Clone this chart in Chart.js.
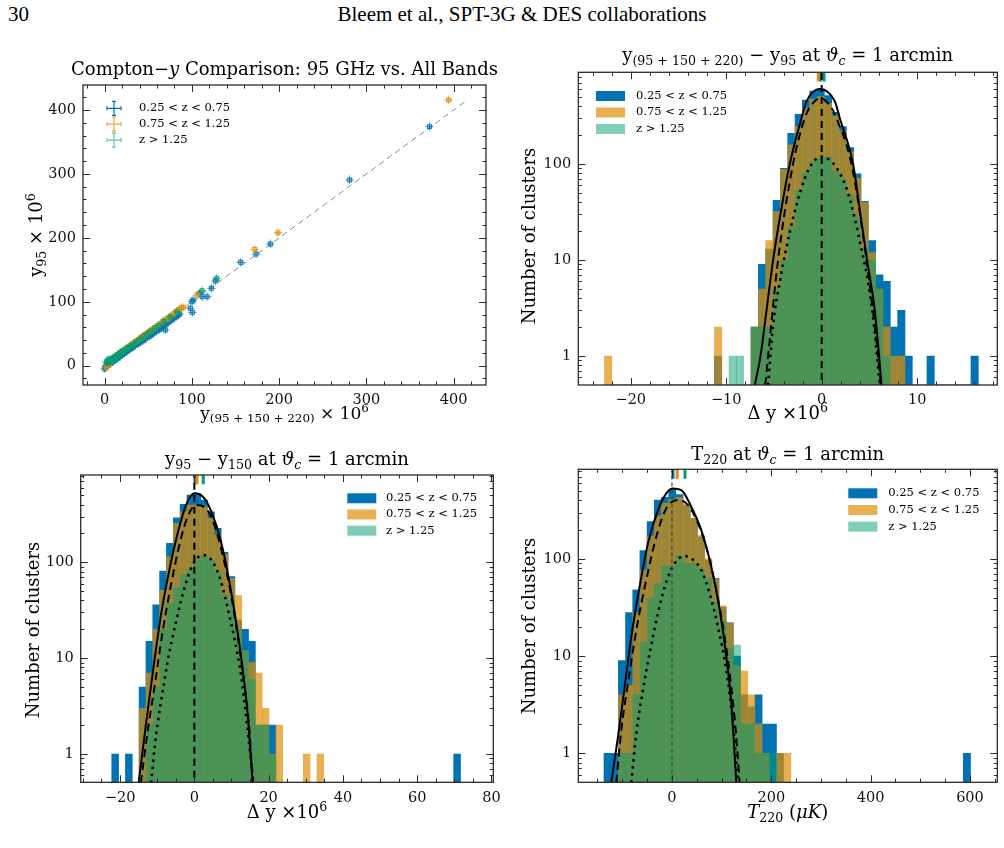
<!DOCTYPE html>
<html>
<head>
<meta charset="utf-8">
<title>Compton-y comparison</title>
<script src="https://cdn.jsdelivr.net/npm/chart.js@4.4.1/dist/chart.umd.min.js"></script>
<style>
  html, body { margin: 0; padding: 0; background: #fff; }
  body { position: relative; width: 1004px; height: 848px; overflow: hidden; font-family: "DejaVu Serif", serif; color: #000; }
  canvas { position: absolute; }
  .t { position: absolute; white-space: nowrap; transform: translate(-50%, -50%); line-height: 1; }
  .rot { transform: translate(-50%, -50%) rotate(-90deg); }
  .title { font-size: 18px; }
  .ax { font-size: 18px; }
  sub { font-size: 0.7em; vertical-align: -0.3em; line-height: 0; }
  sup { font-size: 0.7em; vertical-align: 0.55em; line-height: 0; }
  .hdr { position: absolute; font-family: "Liberation Serif", serif; font-size: 21px; white-space: nowrap; line-height: 1; }
</style>
</head>
<body>
<div class="hdr" style="left:8px; top:4px;">30</div>
<div class="hdr" style="left:522px; top:4px; transform: translateX(-50%);">Bleem et al., SPT-3G &amp; DES collaborations</div>

<canvas id="c1"></canvas>
<canvas id="c2"></canvas>
<canvas id="c3"></canvas>
<canvas id="c4"></canvas>

<div class="t title" style="left:284.5px; top:69px;">Compton−<i>y</i> Comparison: 95 GHz vs. All Bands</div>
<div class="t ax" style="left:284.5px; top:413px; font-size:17px;">y<sub>(95 + 150 + 220)</sub> × 10<sup>6</sup></div>
<div class="t ax rot" style="left:36px; top:235px;">y<sub>95</sub> × 10<sup>6</sup></div>

<div class="t title" style="left:787.7px; top:55px;">y<sub>(95 + 150 + 220)</sub> − y<sub>95</sub> at <i>ϑ<sub>c</sub></i> = 1 arcmin</div>
<div class="t ax" style="left:787.7px; top:413px;">Δ y ×10<sup>6</sup></div>
<div class="t ax rot" style="left:529px; top:236px;">Number of clusters</div>

<div class="t title" style="left:287px; top:459px;">y<sub>95</sub> − y<sub>150</sub> at <i>ϑ<sub>c</sub></i> = 1 arcmin</div>
<div class="t ax" style="left:287px; top:812px;">Δ y ×10<sup>6</sup></div>
<div class="t ax rot" style="left:33px; top:630px;">Number of clusters</div>

<div class="t title" style="left:787.7px; top:454px;">T<sub>220</sub> at <i>ϑ<sub>c</sub></i> = 1 arcmin</div>
<div class="t ax" style="left:787.7px; top:812px;"><i>T</i><sub>220</sub> (<i>μK</i>)</div>
<div class="t ax rot" style="left:529px; top:626px;">Number of clusters</div>

<script>
const BLUE = '#0173b2', ORANGE = '#de8f05', GREEN = '#029e73';
const HIST_FILLS = ['rgba(1,115,178,1)', 'rgba(222,143,5,0.7)', 'rgba(2,158,115,0.5)'];
const LINE_COLORS = [BLUE, ORANGE, GREEN];
const zLabels = ['0.25 < z < 0.75', '0.75 < z < 1.25', 'z > 1.25'];

// ---- panel 1: y95 vs y(95+150+220), both x 10^6
const p1BlueX = [0, 1, 2, 4, 5, 7, 9, 10, 12, 13, 15, 16, 18, 20, 21, 23, 25, 26, 28, 30, 32, 33, 35, 37, 39, 41, 43, 45, 47, 49, 51, 53, 55, 57, 59, 61, 63, 65, 67, 69, 71, 73, 76, 78, 80, 82, 84, 86,
  69.6, 98.2, 100.5, 100.2, 101.3, 108.5, 111.6, 117.4, 122.3, 126.9, 155.9, 173.5, 189.9, 280.8, 372.2];
const p1BlueY = [-5, -2, 0, 1, 3, 4, 6, 8, 9, 11, 12, 14, 15, 17, 19, 20, 22, 24, 25, 27, 29, 30, 32, 34, 35, 37, 39, 40, 43, 45, 46, 48, 50, 52, 54, 56, 57, 59, 62, 64, 66, 68, 71, 73, 75, 77, 79, 81,
  55.9, 89.8, 83.5, 100.2, 102.8, 113.3, 108, 108, 121.1, 132.5, 161.8, 174.8, 190.4, 290.6, 374];
const p1OrangeX = [2, 3, 5, 6, 8, 10, 11, 13, 15, 17, 19, 21, 23, 25, 27, 29, 31, 33, 35, 37, 39, 41, 43, 45, 47, 49, 51, 53, 55, 58, 61, 64, 67, 70, 73, 76, 79, 82, 85, 88, 90,
  105.9, 172, 198.7, 394.3];
const p1OrangeY = [-3, 1, 4, 7, 9, 11, 13, 15, 17, 19, 21, 23, 25, 27, 29, 31, 33, 35, 37, 39, 41, 43, 45, 47, 49, 51, 53, 55, 57, 60, 63, 66, 70, 72, 75, 78, 81, 85, 88, 91, 91,
  110.6, 182, 208.1, 415.8];
const p1GreenX = [2, 3, 4, 5, 6, 7, 8, 9, 10, 11, 12, 13, 14, 15, 16, 17, 18, 19, 20, 22, 24, 26, 28, 30, 33, 36, 40, 44, 48, 52, 57, 62, 68, 75, 83, 111.6, 128.4];
const p1GreenY = [6, 4, 10, 7, 9, 8, 10, 11, 12, 12, 14, 14, 15, 17, 17, 18, 20, 20, 22, 23, 25, 27, 29, 31, 33, 37, 41, 45, 49, 53, 58, 63, 69, 76, 84, 117.4, 136.7];
const p1Diag = [0, 416];

// ---- panel 2: y(95+150+220) - y95, histogram bins
const p2Edge0 = -22.76, p2Width = 0.768;
const p2Blue = [0, 0, 0, 0, 0, 0, 0, 0, 0, 0, 0, 0, 0, 0, 0, 1, 0, 0, 0, 0,
  2, 9, 13, 42, 90, 209, 329, 464, 576, 603, 515, 345, 245, 148, 79, 41, 16, 7, 6, 2, 3, 1, 0, 0, 1, 0, 0, 0, 0, 0, 1];
const p2Orange = [1, 0, 0, 0, 0, 0, 0, 0, 0, 0, 0, 0, 0, 0, 0, 2, 0, 0, 0, 0,
  2, 5, 16, 32, 88, 158, 245, 380, 475, 503, 429, 318, 221, 134, 71, 40, 12, 5, 2, 1, 1, 0, 0, 0, 0, 0, 0, 0, 0, 0, 0];
const p2Green = [0, 0, 0, 0, 0, 0, 0, 0, 0, 0, 0, 0, 0, 0, 0, 0, 0, 1, 1, 0,
  2, 2, 2, 5, 10, 22, 53, 81, 106, 115, 119, 85, 70, 47, 28, 13, 10, 5, 1, 0, 0, 0, 0, 0, 0, 0, 0, 0, 0, 0, 0];
const p2Means = [-0.15, -0.35, 0.25];
const p2SolidX = [-7.0, -6.41, -5.78, -5.09, -4.32, -3.34, -2.12, -1.59, -0.2, 1.37, 1.9, 3.29, 4.06, 4.76, 5.56, 6.02, 6.26];
const p2SolidY = [0.5, 1, 3, 10, 30, 100, 300, 450, 605, 450, 300, 100, 30, 10, 3, 1, 0.5];
const p2DashX = [-5.9, -5.61, -4.57, -3.0, -1.77, -1.17, -0.13, 0.92, 1.55, 3.12, 4.69, 5.91, 6.2];
const p2DashY = [0.5, 1, 10, 100, 300, 400, 483, 400, 300, 100, 10, 1, 0.5];
const p2DotX = [-5.61, -5.09, -4.39, -3.34, -2.64, -1.77, -1.07, -0.02, 1.19, 1.9, 2.6, 3.47, 4.17, 4.86, 5.39, 6.09];
const p2DotY = [0.5, 2.1, 5.9, 19.7, 37.4, 71, 99, 119, 102, 80, 56, 27, 13, 5.9, 2.5, 0.5];

// ---- panel 3: y95 - y150
const p3Edge0 = -22.24, p3Width = 1.8415;
const p3Blue = [1, 0, 1, 0, 5, 15, 36, 81, 158, 292, 402, 503, 524, 446, 337, 226, 127, 71, 25, 20, 15, 2, 2, 2, 0,
  0, 0, 0, 0, 0, 0, 0, 0, 0, 0, 0, 0, 0, 0, 0, 0, 0, 0, 0, 0, 0, 0, 0, 0, 0, 1];
const p3Orange = [0, 0, 0, 0, 3, 7, 20, 51, 114, 255, 337, 396, 396, 380, 287, 193, 121, 68, 45, 12, 9, 7, 3, 1, 2,
  0, 0, 0, 1, 0, 1, 0, 0, 0, 0, 0, 0, 0, 0, 0, 0, 0, 0, 0, 0, 0, 0, 0, 0, 0, 0];
const p3Green = [0, 0, 0, 0, 0, 2, 5, 20, 37, 55, 75, 85, 106, 119, 106, 80, 46, 40, 20, 12, 6, 2, 2, 1, 0,
  0, 0, 0, 0, 0, 0, 0, 0, 0, 0, 0, 0, 0, 0, 0, 0, 0, 0, 0, 0, 0, 0, 0, 0, 0, 0];
const p3Means = [0.2, 0.7, 2.4];
const p3SolidX = [-15.0, -13.0, -11.05, -9.0, -6.74, -4.49, -2.25, 0, 2.7, 4.94, 7.19, 9.43, 11.23, 13.0, 14.38, 15.7];
const p3SolidY = [0.5, 2.09, 7.8, 28, 83, 201, 396, 525, 465, 312, 164, 63, 24, 7.8, 2.55, 0.5];
const p3DashX = [-14.4, -12.6, -10.8, -8.54, -6.29, -4.04, -1.8, 0.45, 3.14, 5.39, 7.63, 9.88, 11.68, 13.5, 14.8, 15.7];
const p3DashY = [0.5, 1.7, 4.8, 18.9, 58, 151, 299, 396, 366, 245, 119, 46, 17, 5.2, 1.85, 0.5];
const p3DotX = [-11.67, -10.3, -8.98, -7.19, -4.94, -2.43, 0, 2.43, 4.94, 7.19, 8.98, 10.78, 12.57, 13.9, 15.3, 15.9];
const p3DotY = [0.5, 1.58, 3.5, 9.2, 24, 58, 101, 119, 101, 63, 33, 16, 6.7, 2.55, 0.83, 0.5];

// ---- panel 4: T220 (uK)
const p4Edge0 = -136.9, p4Width = 14.47;
const p4Blue = [1, 1, 9, 28, 48, 122, 242, 404, 430, 520, 460, 359, 262, 169, 97, 63, 32, 22, 10, 4, 3, 4, 2, 2, 1,
  0, 0, 0, 0, 0, 0, 0, 0, 0, 0, 0, 0, 0, 0, 0, 0, 0, 0, 0, 0, 0, 0, 0, 0, 0, 1];
const p4Orange = [0, 0, 4, 5, 28, 77, 172, 276, 373, 410, 430, 360, 262, 175, 101, 62, 33, 22, 8, 7, 4, 2, 1, 0, 1,
  1, 0, 0, 0, 0, 0, 0, 0, 0, 0, 0, 0, 0, 0, 0, 0, 0, 0, 0, 0, 0, 0, 0, 0, 0, 0];
const p4Green = [0, 0, 1, 1, 4, 14, 40, 56, 85, 86, 107, 90, 90, 78, 63, 36, 23, 12, 13, 2, 2, 1, 1, 1, 0,
  0, 0, 0, 0, 0, 0, 0, 0, 0, 0, 0, 0, 0, 0, 0, 0, 0, 0, 0, 0, 0, 0, 0, 0, 0, 0];
const p4Means = [2, 10.5, 26.2];
const p4SolidX = [-122.2, -108.7, -95.3, -81.9, -65.1, -48.3, -28.2, -11.4, 2.0, 18.8, 38.9, 59, 79.1, 96, 109.4, 119.4, 129.5];
const p4SolidY = [0.5, 1.48, 4.8, 15.8, 52, 145, 318, 473, 532, 511, 344, 198, 83, 30, 9.9, 3.3, 0.5];
const p4DashX = [-112, -102, -88.6, -71.8, -51.7, -31.6, -11.4, 12.1, 32.2, 52.3, 72.5, 89.3, 106, 119.4, 129.5, 136.2];
const p4DashY = [0.5, 1.74, 5.25, 18.5, 61, 169, 331, 404, 358, 232, 114, 48, 15.8, 4.8, 1.48, 0.5];
const p4DotX = [-81.9, -71.8, -58.4, -44.9, -28.2, -11.4, 5.4, 24.2, 42.3, 59, 75.9, 92.6, 109.4, 122.8, 132.9];
const p4DotY = [0.5, 1.6, 4.5, 10.7, 27.6, 58, 90, 107, 98, 77, 44, 20, 7.2, 2.04, 0.5];

// ---------------------------------------------------------------
function pts(xs, ys) { return xs.map((x, i) => ({ x, y: ys[i] })); }
function bins(edge0, width, counts) { return counts.map((c, i) => ({ x: edge0 + (i + 0.5) * width, y: c })); }
function fmt(v) { return v < 0 ? '\u2212' + Math.abs(v) : String(v); }

// small error-bar box used as scatter marker
function marker(rgb) {
  const c = document.createElement('canvas');
  c.width = 9; c.height = 9;
  const g = c.getContext('2d');
  g.fillStyle = `rgba(${rgb},0.3)`;
  g.fillRect(2, 2, 5, 5);
  g.strokeStyle = `rgba(${rgb},0.85)`;
  g.lineWidth = 1;
  g.strokeRect(2.5, 2.5, 4, 4);
  g.beginPath();
  g.moveTo(4.5, 0.5); g.lineTo(4.5, 8.5);
  g.moveTo(0.5, 4.5); g.lineTo(8.5, 4.5);
  g.stroke();
  return c;
}

// axes box + inward ticks on all four sides (matplotlib style)
const frame = {
  id: 'frame',
  afterDatasetsDraw(chart, args, o) {
    const { ctx, chartArea: a } = chart;
    const xs = chart.scales.x, ys = chart.scales.y;
    ctx.save();
    ctx.strokeStyle = '#2a2a2a';
    ctx.lineWidth = 1.3;
    ctx.strokeRect(a.left, a.top, a.right - a.left, a.bottom - a.top);
    ctx.lineWidth = 1;
    ctx.beginPath();
    const xt = (v, len) => {
      const p = Math.round(xs.getPixelForValue(v)) + 0.5;
      ctx.moveTo(p, a.bottom); ctx.lineTo(p, a.bottom - len);
      ctx.moveTo(p, a.top); ctx.lineTo(p, a.top + len);
    };
    const yt = (v, len) => {
      const p = Math.round(ys.getPixelForValue(v)) + 0.5;
      ctx.moveTo(a.left, p); ctx.lineTo(a.left + len, p);
      ctx.moveTo(a.right, p); ctx.lineTo(a.right - len, p);
    };
    o.xMajor.forEach(v => xt(v, 7));
    for (let v = Math.ceil(xs.min / o.xMinor) * o.xMinor; v <= xs.max; v += o.xMinor) {
      if (!o.xMajor.some(m => Math.abs(m - v) < 1e-9)) xt(v, 3.5);
    }
    o.yMajor.forEach(v => yt(v, 7));
    if (o.yLog) {
      for (let d = Math.floor(Math.log10(ys.min)); d <= Math.ceil(Math.log10(ys.max)); d++) {
        for (let m = 2; m <= 9; m++) {
          const v = m * Math.pow(10, d);
          if (v > ys.min && v < ys.max) yt(v, 3.5);
        }
      }
    } else {
      for (let v = Math.ceil(ys.min / o.yMinor) * o.yMinor; v <= ys.max; v += o.yMinor) {
        if (!o.yMajor.some(m => Math.abs(m - v) < 1e-9)) yt(v, 3.5);
      }
    }
    ctx.stroke();
    ctx.restore();
  }
};

// legend drawn inside the axes
const boxLegend = {
  id: 'boxLegend',
  afterDraw(chart, args, o) {
    const { ctx } = chart;
    const items = chart.data.datasets.filter(d => d.inLegend);
    ctx.save();
    ctx.font = '11.5px "DejaVu Serif"';
    ctx.textBaseline = 'middle';
    items.forEach((d, i) => {
      const y = o.y + i * o.gap;
      if (o.kind === 'errorbar') {
        ctx.strokeStyle = d.legendColor;
        ctx.lineWidth = 1.2;
        ctx.beginPath();
        ctx.moveTo(o.x - 7, y); ctx.lineTo(o.x + 7, y);
        ctx.moveTo(o.x, y - 7); ctx.lineTo(o.x, y + 7);
        ctx.moveTo(o.x - 7, y - 2); ctx.lineTo(o.x - 7, y + 2);
        ctx.moveTo(o.x + 7, y - 2); ctx.lineTo(o.x + 7, y + 2);
        ctx.moveTo(o.x - 2, y - 7); ctx.lineTo(o.x + 2, y - 7);
        ctx.moveTo(o.x - 2, y + 7); ctx.lineTo(o.x + 2, y + 7);
        ctx.stroke();
      } else {
        ctx.fillStyle = d.backgroundColor;
        ctx.fillRect(o.x, y - 5, 29, 10);
      }
      ctx.fillStyle = '#000';
      ctx.fillText(d.label, o.textX, y);
    });
    ctx.restore();
  }
};

const TICK_FONT = { family: '"DejaVu Serif"', size: 14.5 };
const YW = 44, XH = 30;

function makeChart(id, box, area, type, datasets, sx, sy, frameOpts, legendOpts) {
  const cv = document.getElementById(id);
  cv.width = box.w; cv.height = box.h;
  cv.style.left = box.x + 'px';
  cv.style.top = box.y + 'px';
  const pad = {
    left: area.l - box.x - YW,
    top: area.t - box.y,
    right: box.x + box.w - area.r,
    bottom: box.y + box.h - area.b - XH
  };
  return new Chart(cv, {
    type: type,
    data: { datasets: datasets },
    options: {
      responsive: false,
      animation: false,
      events: [],
      layout: { padding: pad },
      plugins: {
        legend: { display: false },
        tooltip: { enabled: false },
        frame: frameOpts,
        boxLegend: legendOpts
      },
      scales: {
        x: {
          type: 'linear', min: sx.min, max: sx.max, offset: false, bounds: 'data',
          grid: { display: false, drawTicks: false }, border: { display: false },
          ticks: { font: TICK_FONT, color: '#111', padding: 7, autoSkip: false, maxRotation: 0, callback: fmt },
          afterBuildTicks: s => { s.ticks = sx.ticks.map(v => ({ value: v })); },
          afterFit: s => { s.height = XH; s.paddingLeft = 0; s.paddingRight = 0; }
        },
        y: {
          type: sy.log ? 'logarithmic' : 'linear', min: sy.min, max: sy.max, bounds: 'data',
          grid: { display: false, drawTicks: false }, border: { display: false },
          ticks: { font: TICK_FONT, color: '#111', padding: 7, autoSkip: false, callback: fmt },
          afterBuildTicks: s => { s.ticks = sy.ticks.map(v => ({ value: v })); },
          afterFit: s => { s.width = YW; s.paddingTop = 0; s.paddingBottom = 0; }
        }
      }
    },
    plugins: [frame, boxLegend]
  });
}

function histDatasets(edge0, width, counts, means, curves, yTop, zeroStyle) {
  const ds = [];
  counts.forEach((c, i) => {
    ds.push({
      type: 'bar', label: zLabels[i], inLegend: true,
      data: bins(edge0, width, c),
      backgroundColor: HIST_FILLS[i], borderWidth: 0,
      grouped: false, barPercentage: 1, categoryPercentage: 1,
      order: 10 - i
    });
  });
  means.forEach((m, i) => {
    ds.push({
      type: 'line', data: [{ x: m, y: yTop }, { x: m, y: yTop * 0.8 }],
      borderColor: LINE_COLORS[i], borderWidth: 3, pointRadius: 0, order: 6 - i
    });
  });
  const styles = [[], [8, 5], [2.5, 4.5]];
  curves.forEach((c, i) => {
    ds.push({
      type: 'line', data: pts(c[0], c[1]),
      borderColor: '#000', borderWidth: i === 2 ? 2.6 : 2, borderDash: styles[i],
      cubicInterpolationMode: 'monotone', pointRadius: 0, order: 2
    });
  });
  ds.push({
    type: 'line', data: [{ x: 0, y: 0.1 }, { x: 0, y: yTop }],
    borderColor: zeroStyle.color, borderWidth: zeroStyle.width, borderDash: zeroStyle.dash,
    pointRadius: 0, order: 0
  });
  return ds;
}

// ---- panel 1
makeChart('c1', { x: 0, y: 40, w: 502, h: 400 }, { l: 83, t: 85, r: 486, b: 385 }, 'scatter', [
  { label: zLabels[0], inLegend: true, legendColor: BLUE, data: pts(p1BlueX, p1BlueY), pointStyle: marker('1,115,178'), order: 3 },
  { label: zLabels[1], inLegend: true, legendColor: 'rgba(222,143,5,0.75)', data: pts(p1OrangeX, p1OrangeY), pointStyle: marker('222,143,5'), order: 2 },
  { label: zLabels[2], inLegend: true, legendColor: 'rgba(2,158,115,0.6)', data: pts(p1GreenX, p1GreenY), pointStyle: marker('2,158,115'), order: 1 },
  { type: 'line', data: pts(p1Diag, p1Diag), borderColor: '#8a8a8a', borderWidth: 1, borderDash: [6, 4], pointRadius: 0, order: 4 }
], { min: -24.8, max: 437.1, ticks: [0, 100, 200, 300, 400] },
   { min: -30.2, max: 439.1, ticks: [0, 100, 200, 300, 400] },
   { xMajor: [0, 100, 200, 300, 400], xMinor: 20, yMajor: [0, 100, 200, 300, 400], yMinor: 20 },
   { kind: 'errorbar', x: 114, textX: 139, y: 68.3, gap: 15.9 });

// ---- panel 2
makeChart('c2', { x: 502, y: 40, w: 502, h: 400 }, { l: 578.3, t: 72.3, r: 997.3, b: 385 }, 'bar',
  histDatasets(p2Edge0, p2Width, [p2Blue, p2Orange, p2Green], p2Means,
    [[p2SolidX, p2SolidY], [p2DashX, p2DashY], [p2DotX, p2DotY]], 902, { color: '#000', width: 2, dash: [7, 5] }),
  { min: -25.5, max: 18.4, ticks: [-20, -10, 0, 10] },
  { log: true, min: 0.5, max: 902, ticks: [1, 10, 100] },
  { xMajor: [-20, -10, 0, 10], xMinor: 2, yMajor: [1, 10, 100], yLog: true },
  { kind: 'box', x: 94, textX: 134, y: 56, gap: 16.5 });

// ---- panel 3
makeChart('c3', { x: 0, y: 440, w: 502, h: 400 }, { l: 80.7, t: 475, r: 493.3, b: 782.3 }, 'bar',
  histDatasets(p3Edge0, p3Width, [p3Blue, p3Orange, p3Green], p3Means,
    [[p3SolidX, p3SolidY], [p3DashX, p3DashY], [p3DotX, p3DotY]], 815, { color: '#000', width: 2, dash: [7, 5] }),
  { min: -30.6, max: 80.5, ticks: [-20, 0, 20, 40, 60, 80] },
  { log: true, min: 0.507, max: 815, ticks: [1, 10, 100] },
  { xMajor: [-20, 0, 20, 40, 60, 80], xMinor: 5, yMajor: [1, 10, 100], yLog: true },
  { kind: 'box', x: 347.3, textX: 386, y: 58.3, gap: 16.2 });

// ---- panel 4
makeChart('c4', { x: 502, y: 440, w: 502, h: 400 }, { l: 578.3, t: 469.3, r: 997.3, b: 782.3 }, 'bar',
  histDatasets(p4Edge0, p4Width, [p4Blue, p4Orange, p4Green], p4Means,
    [[p4SolidX, p4SolidY], [p4DashX, p4DashY], [p4DotX, p4DotY]], 836, { color: '#444', width: 1.2, dash: [4, 3] }),
  { min: -188.6, max: 655, ticks: [0, 200, 400, 600] },
  { log: true, min: 0.503, max: 836, ticks: [1, 10, 100] },
  { xMajor: [0, 200, 400, 600], xMinor: 50, yMajor: [1, 10, 100], yLog: true },
  { kind: 'box', x: 346.3, textX: 386.3, y: 53.3, gap: 16.7 });
</script>
</body>
</html>
